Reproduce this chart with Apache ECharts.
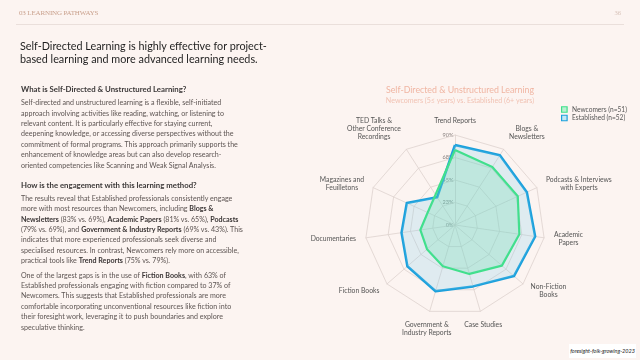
<!DOCTYPE html>
<html>
<head>
<meta charset="utf-8">
<script src="https://cdn.jsdelivr.net/npm/echarts@6/dist/echarts.min.js"></script>
<style>
  html, body { margin: 0; padding: 0; background: #fcf4f1; }
  .page { position: relative; width: 640px; height: 360px; overflow: hidden; font-family: Lato, sans-serif; }
  #chart { position: absolute; left: 0; top: 0; width: 640px; height: 360px; }
  .hdr { position: absolute; left: 19px; top: 9px; font-family: 'Liberation Serif', serif; font-size: 7px; color: #c9a08c; line-height: 8px; letter-spacing: -0.15px; }
  .pno { position: absolute; right: 19px; top: 9px; font-family: 'Liberation Serif', serif; font-size: 6.6px; color: #d8c3b9; line-height: 8px; }
  .rule { position: absolute; left: 16px; top: 24px; width: 608px; height: 0; border-top: 1px solid #eadfdb; }
  .title { position: absolute; left: 20px; top: 38.5px; font-size: 10.8px; line-height: 13px; color: #1f1f1f; white-space: nowrap; }
  .h { position: absolute; left: 21px; font-size: 7.8px; line-height: 10.4px; font-weight: bold; color: #3b3838; white-space: nowrap; }
  .p { position: absolute; left: 21px; font-size: 7.1px; line-height: 10.4px; color: #5d5553; white-space: nowrap; }
  .p b { color: #3a3535; }
  .src { position: absolute; left: 569px; top: 344px; width: 67px; height: 14px; background: #fff; font-size: 5.5px; line-height: 14px; font-style: italic; color: #222; text-align: center; }
</style>
</head>
<body>
<div class="page">
  <div id="chart"></div>
  <div class="hdr">03 LEARNING PATHWAYS</div>
  <div class="pno">36</div>
  <div class="rule"></div>
  <div class="title">Self-Directed Learning is highly effective for project-<br>based learning and more advanced learning needs.</div>

  <div class="h" style="top:84.1px">What is Self-Directed &amp; Unstructured Learning?</div>
  <div class="p" style="top:98.1px">Self-directed and unstructured learning is a flexible, self-initiated<br>approach involving activities like reading, watching, or listening to<br>relevant content. It is particularly effective for staying current,<br>deepening knowledge, or accessing diverse perspectives without the<br>commitment of formal programs. This approach primarily supports the<br>enhancement of knowledge areas but can also develop research-<br>oriented competencies like Scanning and Weak Signal Analysis.</div>

  <div class="h" style="top:179.8px">How is the engagement with this learning method?</div>
  <div class="p" style="top:193.8px">The results reveal that Established professionals consistently engage<br>more with most resources than Newcomers, including <b>Blogs &amp;</b><br><b>Newsletters</b> (83% vs. 69%), <b>Academic Papers</b> (81% vs. 65%), <b>Podcasts</b><br>(79% vs. 69%), and <b>Government &amp; Industry Reports</b> (69% vs. 43%). This<br>indicates that more experienced professionals seek diverse and<br>specialised resources. In contrast, Newcomers rely more on accessible,<br>practical tools like <b>Trend Reports</b> (75% vs. 79%).</div>
  <div class="p" style="top:270.5px">One of the largest gaps is in the use of <b>Fiction Books</b>, with 63% of<br>Established professionals engaging with fiction compared to 37% of<br>Newcomers. This suggests that Established professionals are more<br>comfortable incorporating unconventional resources like fiction into<br>their foresight work, leveraging it to push boundaries and explore<br>speculative thinking.</div>

  <div class="src">foresight-folk-growing-2023</div>
</div>
<script>
  // categories clockwise from the top
  var categories = ['Trend Reports', 'Blogs &\nNewsletters', 'Podcasts & Interviews\nwith Experts', 'Academic\nPapers',
    'Non-Fiction\nBooks', 'Case Studies', 'Government &\nIndustry Reports', 'Fiction Books', 'Documentaries',
    'Magazines and\nFeuilletons', 'TED Talks &\nOther Conference\nRecordings'];
  var newcomers = [75, 69, 69, 65, 62, 51, 43, 37, 35, 30, 36];
  var established = [80, 83, 79, 81, 78, 64, 69, 63, 54, 53, 33];
  var tickValues = [0, 22.5, 45, 67.5, 90];
  var tickLabels = ['0%', '23%', '45%', '68%', '90%'];
  var seriesNames = ['Newcomers (n=51)', 'Established (n=52)'];

  var cx = 455, cy = 225, radius = 90, maxVal = 90;
  var font = 'Lato, sans-serif';

  // echarts radar runs counter-clockwise, so reverse everything after the first item
  var ecOrder = [0];
  for (var k = categories.length - 1; k > 0; k--) ecOrder.push(k);
  function reorder(arr) { return ecOrder.map(function (i) { return arr[i]; }); }

  // 轴名称自己画，底部的标签要居中
  var ctx = document.createElement('canvas').getContext('2d');
  var graphics = [];
  var step = Math.PI * 2 / categories.length;
  categories.forEach(function (name, i) {
    var a = i * step, s = Math.sin(a), c = Math.cos(a);
    var r = radius + 10;
    var ax = cx + r * s, ay = cy - r * c;
    var lines = name.split('\n');
    ctx.font = '6.8px ' + font;
    var w = Math.max.apply(null, lines.map(function (l) { return ctx.measureText(l).width; }));
    var h = lines.length * 8;
    var x = Math.abs(s) < 0.35 ? ax : (s > 0 ? ax + w / 2 : ax - w / 2);
    var y = c > 0.8 ? ay - h / 2 : (c < -0.8 ? ay + h / 2 : ay);
    graphics.push({
      type: 'text', x: x, y: y,
      style: { text: name, fill: '#555', font: '6.8px ' + font, align: 'center', verticalAlign: 'middle', lineHeight: 8 }
    });
  });
  tickValues.forEach(function (v, i) {
    graphics.push({
      type: 'text', x: cx - 1.5, y: cy - v / maxVal * radius,
      style: { text: tickLabels[i], fill: '#8a8280', font: '5.6px ' + font, align: 'right', verticalAlign: 'middle' }
    });
  });

  var chart = echarts.init(document.getElementById('chart'));
  chart.setOption({
    backgroundColor: 'transparent',
    animation: false,
    title: {
      text: 'Self-Directed & Unstructured Learning',
      subtext: 'Newcomers (5≤ years) vs. Established (6+ years)',
      left: cx, top: 81, textAlign: 'center', itemGap: 2,
      textStyle: { fontFamily: font, fontSize: 8.8, fontWeight: 'normal', color: '#f0b5a2' },
      subtextStyle: { fontFamily: font, fontSize: 7.1, color: '#f1c2b3' }
    },
    legend: {
      orient: 'vertical', left: 556, top: 101, itemWidth: 5.5, itemHeight: 5.5, itemGap: 1.5, icon: 'rect',
      textStyle: { fontFamily: font, fontSize: 6.6, color: '#555' },
      data: [
        { name: seriesNames[0], itemStyle: { color: '#b9f0d2', borderColor: '#3fe08a', borderWidth: 1.2 } },
        { name: seriesNames[1], itemStyle: { color: '#c4e8f4', borderColor: '#1ba0dc', borderWidth: 1.2 } }
      ]
    },
    radar: {
      center: [cx, cy], radius: radius, startAngle: 90, splitNumber: 4, shape: 'polygon',
      indicator: reorder(categories).map(function (n) { return { name: n, min: 0, max: maxVal }; }),
      axisName: { show: false },
      splitArea: { show: false },
      splitLine: { lineStyle: { color: '#ddd2ce', width: 0.8 } },
      axisLine: { lineStyle: { color: '#ddd2ce', width: 0.8 } },
      axisTick: { show: false },
      axisLabel: { show: false }
    },
    graphic: graphics,
    series: [{
      type: 'radar',
      symbol: 'none',
      data: [
        {
          name: seriesNames[1], value: reorder(established),
          lineStyle: { color: '#1ba0dc', width: 2.5 },
          itemStyle: { color: '#1ba0dc' },
          areaStyle: { color: 'rgba(120,205,235,0.3)' }
        },
        {
          name: seriesNames[0], value: reorder(newcomers),
          lineStyle: { color: '#3fe08a', width: 2.2 },
          itemStyle: { color: '#3fe08a' },
          areaStyle: { color: 'rgba(90,220,170,0.35)' }
        }
      ]
    }]
  });
</script>
</body>
</html>
